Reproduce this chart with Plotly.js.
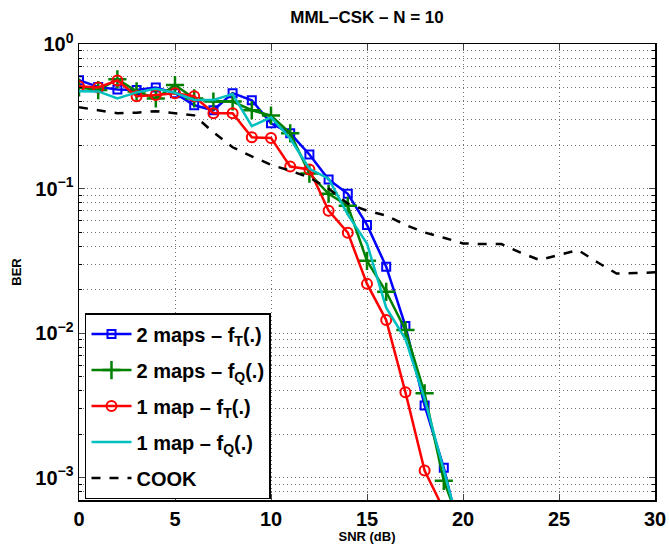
<!DOCTYPE html>
<html>
<head>
<meta charset="utf-8">
<script src="https://cdn.plot.ly/plotly-3.0.1.min.js"></script>
<style>html,body{margin:0;padding:0;background:#fff;}#chart{width:669px;height:550px;}</style>
</head>
<body>
<div id="chart"></div>
<script>
// Data
var snr = [0,1,2,3,4,5,6,7,8,9,10,11,12,13,14,15,16,17,18,19,20];
var snrCook = [0,1,2,3,4,5,6,7,8,9,10,11,12,13,14,15,16,17,18,19,20,21,22,23,24,25,26,27,28,29,30];

var ber2mapsT = [0.562,0.505,0.485,0.48,0.50,0.457,0.377,0.348,0.457,0.408,0.283,0.241,0.172,0.1155,0.092,0.056,0.0288,0.0112,0.00316,0.00117,0.00033];
var ber2mapsQ = [0.50,0.48,0.57,0.47,0.42,0.52,0.42,0.40,0.40,0.348,0.32,0.241,0.127,0.092,0.076,0.0316,0.0193,0.0105,0.00383,0.00095,0.00042];
var ber1mapT  = [0.51,0.50,0.56,0.435,0.443,0.457,0.435,0.332,0.332,0.226,0.224,0.142,0.1355,0.0703,0.0495,0.0219,0.0123,0.0039,0.00112,0.0006];
var ber1mapQ  = [0.472,0.47,0.42,0.463,0.49,0.46,0.41,0.41,0.45,0.27,0.311,0.222,0.137,0.117,0.066,0.0416,0.015,0.0091,0.0035,0.00112,0.00036];
var berCook   = [0.365,0.348,0.332,0.335,0.343,0.332,0.321,0.245,0.193,0.167,0.146,0.133,0.119,0.10,0.0787,0.0703,0.065,0.056,0.0497,0.0457,0.0417,0.0413,0.0413,0.036,0.032,0.0348,0.0375,0.0309,0.0258,0.026,0.0263];

var names = ['2 maps \u2013 f<sub>T</sub>(.)','2 maps \u2013 f<sub>Q</sub>(.)','1 map \u2013 f<sub>T</sub>(.)','1 map \u2013 f<sub>Q</sub>(.)','COOK'];
var xTicks = [0,5,10,15,20,25,30];
var yTicks = [0.001,0.01,0.1,1];
var yTickText = ['10<sup>\u22123</sup>','10<sup>\u22122</sup>','10<sup>\u22121</sup>','10<sup>0</sup>'];

var minorY = [];
[0.0001,0.001,0.01,0.1].forEach(function(d){ for (var k=2;k<=9;k++) minorY.push(+(d*k).toPrecision(3)); });

var traces = [
  {x: snr, y: ber2mapsT, name: names[0], legendgroup:'g1', mode:'lines+markers',
   line:{color:'#0000ff', width:2.5},
   marker:{symbol:'square-open', size:8, color:'#0000ff', line:{width:2, color:'#0000ff'}}},
  {x: snr, y: ber2mapsQ, name: names[1], legendgroup:'g2', mode:'lines+markers',
   line:{color:'#008000', width:2.5},
   marker:{symbol:'cross-thin-open', size:13, color:'#008000', line:{width:2.5, color:'#008000'}}},
  {x: snr.slice(0, ber1mapT.length), y: ber1mapT, name: names[2], legendgroup:'g3', mode:'lines+markers',
   line:{color:'#ff0000', width:2.5},
   marker:{symbol:'circle-open', size:10, color:'#ff0000', line:{width:2, color:'#ff0000'}}},
  {x: snr, y: ber1mapQ, name: names[3], legendgroup:'g4', mode:'lines',
   line:{color:'#00bfbf', width:2.5}},
  {x: snrCook, y: berCook, name: names[4], legendgroup:'g5', mode:'lines',
   line:{color:'#000000', width:2.5, dash:'dash'}}
];

var gridCol = '#707070';
var gridDash = '1px,3px';
var layout = {
  width: 669, height: 550,
  margin: {l:79, r:14, t:44, b:50, pad:0},
  paper_bgcolor:'#ffffff', plot_bgcolor:'#ffffff',
  font: {family:'Liberation Sans, Arial, sans-serif', color:'#000', weight:'bold'},
  title: {text:'MML\u2013CSK \u2013 N = 10', font:{size:17, weight:'bold', color:'#000'},
          x:0.5, xref:'paper', y:1-17/550, yref:'container', yanchor:'middle'},
  showlegend: true,
  legend: {x:0.0104, y:0.41, xanchor:'left', yanchor:'top', bgcolor:'#ffffff',
           bordercolor:'#000', borderwidth:1.5, font:{size:20, weight:'bold'},
           itemwidth:40, tracegroupgap:7, traceorder:'grouped'},
  xaxis: {range:[0,30], tickvals:xTicks, ticks:'inside', ticklen:6, tickwidth:1,
          showline:true, linecolor:'#000', linewidth:1.5, mirror:'ticks',
          showgrid:true, gridcolor:gridCol, griddash:gridDash, gridwidth:1, zeroline:false,
          tickfont:{size:20, weight:'bold'},
          title:{text:'SNR (dB)', font:{size:13, weight:'bold'}, standoff:1}},
  yaxis: {type:'log', range:[Math.log10(0.0007), 0], tickvals:yTicks, ticktext:yTickText,
          ticks:'inside', ticklen:6, tickwidth:1,
          showline:true, linecolor:'#000', linewidth:1.5, mirror:'ticks',
          showgrid:true, gridcolor:gridCol, griddash:gridDash, gridwidth:1, zeroline:false,
          tickfont:{size:20, weight:'bold'},
          minor:{tickvals:minorY, ticks:'inside', ticklen:3, tickcolor:'#000',
                 showgrid:true, gridcolor:gridCol, griddash:gridDash, gridwidth:1},
          title:{text:'BER', font:{size:13, weight:'bold'}, standoff:10}}
};

Plotly.newPlot('chart', traces, layout, {displayModeBar:false, staticPlot:true});
</script>
</body>
</html>
